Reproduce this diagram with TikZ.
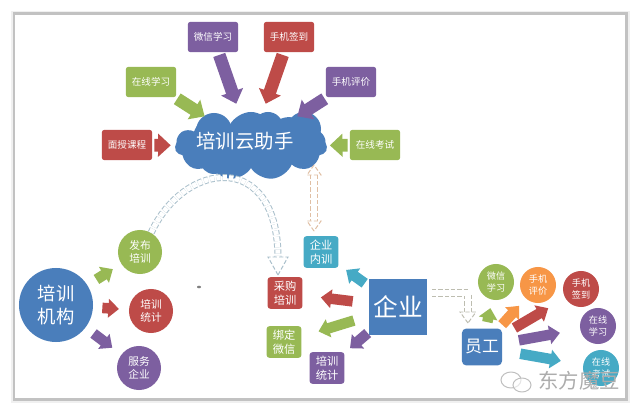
\documentclass[tikz,border=0pt]{standalone}
\usepackage{fontspec}
\setmainfont{Noto Sans CJK SC}
\usetikzlibrary{positioning,shapes,arrows.meta}
\definecolor{mblue}{HTML}{4A7EBB}
\definecolor{mred}{HTML}{BE4B48}
\definecolor{mgreen}{HTML}{98B954}
\definecolor{mpurple}{HTML}{7D5FA0}
\definecolor{mteal}{HTML}{46AAC5}
\definecolor{morange}{HTML}{F79646}
\definecolor{hblue}{HTML}{A9BFCB}
\definecolor{hsand}{HTML}{E0BFA4}
\definecolor{hgray}{HTML}{BDBDB0}
\tikzset{
  tagbox/.style={fill=#1, text=white, rounded corners=1.5pt, minimum width=1.25cm, minimum height=0.75cm, inner sep=0pt, align=center, font=\fontsize{6.8}{9}\selectfont},
  midbox/.style={fill=#1, text=white, rounded corners=2pt, minimum width=0.87cm, minimum height=0.79cm, inner sep=0pt, align=center, font=\fontsize{8}{10}\selectfont},
  bigdot/.style={circle, fill=#1, text=white, minimum size=1.1cm, inner sep=0pt, align=center, font=\fontsize{7.6}{9.5}\selectfont},
  smalldot/.style={circle, fill=#1, text=white, minimum size=0.9cm, inner sep=0pt, align=center, font=\fontsize{6.5}{8.5}\selectfont},
  fatarrow/.style={line width=9pt, draw=#1, -{Triangle[length=9pt,width=16pt]}},
  thinarrow/.style={line width=7.5pt, draw=#1, -{Triangle[length=7.5pt,width=13pt]}},
  hollowarrow/.style={draw=#1, line width=0.7pt, dash pattern=on 3pt off 1.5pt, double=white, double distance=3.6pt},
  hollowtip/.style={draw=#1, line width=0.7pt, dash pattern=on 3pt off 1.5pt, fill=white}
}
\begin{document}
\begin{tikzpicture}[x=0.025cm,y=-0.025cm]
  \useasboundingbox (0,0) rectangle (640,413);
  \fill[black!6] (11,11) rectangle (630,403);
  \fill[black!24] (13,12) rectangle (628,401);
  \fill[white] (15,15) rectangle (625,398);

  \fill[mblue] (214,131) circle (18);
  \fill[mblue] (304,129) circle (17);
  \fill[mblue] (268,127) circle (15);
  \fill[mblue] (214,160) circle (14);
  \node[cloud, cloud puffs=11, cloud puff arc=125, cloud ignores aspect, fill=mblue, minimum width=3.8cm, minimum height=1.7cm, inner sep=0pt] (yun) at (251,146) {};
  \node[text=white, font=\fontsize{13.8}{16}\selectfont] (yuntext) at (245,141) {培训云助手};

  \node[tagbox=mpurple] (wxstudy) at (213,37) {微信学习};
  \node[tagbox=mred] (signin) at (289,37) {手机签到};
  \node[tagbox=mgreen] (online) at (151,82) {在线学习};
  \node[tagbox=mpurple] (review) at (351,82) {手机评价};
  \node[tagbox=mred] (course) at (127,145) {面授课程};
  \node[tagbox=mgreen] (exam) at (375,145) {在线考试};

  \draw[fatarrow=mpurple, shorten <=2pt, shorten >=8pt] (wxstudy) -- (yun);
  \draw[fatarrow=mred, shorten <=2pt, shorten >=8pt] (signin) -- (yun);
  \draw[fatarrow=mgreen, shorten <=2pt, shorten >=2pt] (online) -- (yun);
  \draw[fatarrow=mpurple, shorten <=2pt, shorten >=2pt] (review) -- (yun);
  \draw[fatarrow=mred, shorten <=1.5pt, shorten >=3pt] (course) -- (yun);
  \draw[fatarrow=mgreen, shorten <=1.5pt, shorten >=2pt] (exam) -- (yun);

  \node[circle, fill=mblue, text=white, minimum size=1.85cm, inner sep=0pt, align=center, font=\fontsize{13}{17}\selectfont] (jigou) at (56,305) {培训\\机构};
  \node[bigdot=mgreen] (fabu) at (140,252) {发布\\培训};
  \node[bigdot=mred] (tongji) at (151,311) {培训\\统计};
  \node[bigdot=mpurple] (fuwu) at (139,368) {服务\\企业};

  \draw[thinarrow=mgreen, shorten <=7.5pt, shorten >=7pt] (jigou) -- (fabu);
  \draw[thinarrow=mred, shorten <=6.5pt, shorten >=7pt] (jigou) -- (tongji);
  \draw[thinarrow=mpurple, shorten <=7pt, shorten >=8pt] (jigou) -- (fuwu);

  \node[midbox=mteal] (neixun) at (321,252) {企业\\内训};
  \node[midbox=mred] (caigou) at (285,293) {采购\\培训};
  \node[midbox=mgreen] (bangding) at (284,342) {绑定\\微信};
  \node[midbox=mpurple] (qytongji) at (327,368) {培训\\统计};
  \node[fill=mblue, text=white, minimum width=1.45cm, minimum height=1.38cm, inner sep=0pt, font=\fontsize{17.5}{20}\selectfont] (qiye) at (398,307) {企业};

  \draw[thinarrow=mteal, shorten <=3.5pt, shorten >=6.5pt] (qiye) -- (neixun);
  \draw[thinarrow=mred, shorten <=11.5pt, shorten >=13pt] (qiye) -- (caigou);
  \draw[thinarrow=mgreen, shorten <=11pt, shorten >=12.5pt] (qiye) -- (bangding);
  \draw[thinarrow=mpurple, shorten <=1pt, shorten >=5pt] (qiye) -- (qytongji);

  \node[fill=mblue, text=white, rounded corners=3pt, minimum width=1cm, minimum height=0.92cm, inner sep=0pt, font=\fontsize{12}{14}\selectfont] (yuangong) at (482,347) {员工};
  \node[smalldot=mgreen] (d1) at (496,282) {微信\\学习};
  \node[smalldot=morange] (d2) at (538,285) {手机\\评价};
  \node[smalldot=mred] (d3) at (581,289) {手机\\签到};
  \node[smalldot=mpurple] (d4) at (598,326) {在线\\学习};
  \node[smalldot=mteal] (d5) at (601,368) {在线\\考试};

  \draw[thinarrow=mgreen, shorten <=4.5pt, shorten >=6pt] (yuangong) -- (d1);
  \draw[thinarrow=morange, shorten <=3.5pt, shorten >=7pt] (yuangong) -- (d2);
  \draw[thinarrow=mred, shorten <=10pt, shorten >=14pt] (yuangong) -- (d3);
  \draw[thinarrow=mpurple, shorten <=12pt, shorten >=14.5pt] (yuangong) -- (d4);
  \draw[thinarrow=mteal, shorten <=13pt, shorten >=16pt] (yuangong) -- (d5);

  \coordinate (fatip) at (278,275);
  \draw[hollowarrow=hblue, shorten >=12pt] (fabu.60) .. controls (185,160) and (278,150) .. (fatip);
  \draw[hollowtip=hblue] (fatip) -- ++(-10,-18) -- ++(5,0) -- ++(10,0) -- ++(5,0) -- cycle;

  \coordinate (uptip) at (314,165);
  \coordinate (downtip) at (314,231);
  \draw[hollowarrow=hsand, shorten >=7pt, shorten <=7pt] (uptip) -- (downtip);
  \draw[hollowtip=hsand] (uptip) -- ++(-7,10) -- ++(14,0) -- cycle;
  \draw[hollowtip=hsand] (downtip) -- ++(-7,-10) -- ++(14,0) -- cycle;

  \coordinate (yystart) at (432,293);
  \coordinate (yytip) at (468,323);
  \draw[hollowarrow=hgray, shorten >=7pt] (yystart) -- (468,293) -- (yytip);
  \draw[hollowtip=hgray] (yytip) -- ++(-8,-11) -- ++(16,0) -- cycle;

  \fill[gray] (199,287) ellipse (2 and 1.3);

  \draw[gray!50, line width=0.7pt] (511,380) ellipse (10 and 8);
  \draw[gray!50, line width=0.7pt, fill=white, fill opacity=0.6] (522,385) ellipse (9 and 7);
  \node[text=gray!65, font=\fontsize{14.5}{16}\selectfont] (mark) at (579,381) {东方魔豆};
\end{tikzpicture}
\end{document}
